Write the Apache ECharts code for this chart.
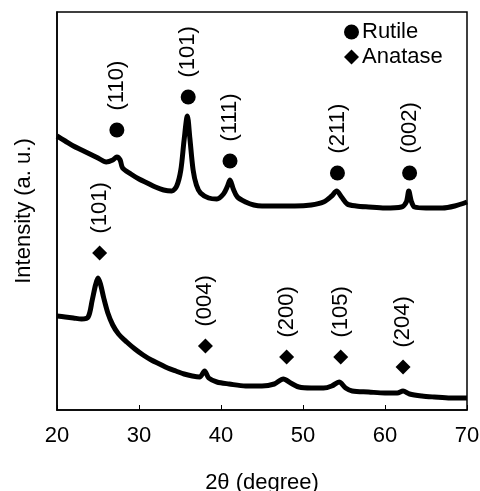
<!DOCTYPE html>
<html>
<head>
<meta charset="utf-8">
<script src="https://cdn.jsdelivr.net/npm/echarts@6/dist/echarts.min.js"></script>
<style>html,body{margin:0;padding:0;background:#fff}#c{width:480px;height:491px}</style>
</head>
<body>
<div id="c"></div>
<script>
// Top trace (rutile sample): [2theta, intensity a.u.]
var rutileTrace = [
[20.0,274],[21.0,269],[22.0,264],[23.0,260],[24.0,256],[25.0,252],[26.0,248],[26.8,250],[27.3,253],[27.7,250],
[28.0,242],[29.0,236],[30.0,231],[31.0,227],[32.0,223],[33.0,220],[34.0,219],[34.6,224],[35.1,240],[35.5,270],
[35.9,294],[36.2,272],[36.6,240],[37.0,225],[37.5,217],[38.5,212],[39.5,211],[40.3,216],[40.8,224],[41.1,230],
[41.5,221],[42.0,213],[43.0,208],[44.0,205],[45.0,204],[47.0,204],[49.0,204],[51.0,205],[52.5,208],[53.5,214],
[54.1,219],[54.7,213],[55.4,206],[56.5,204],[58.0,203],[60.0,202],[62.0,203],[62.6,208],[62.9,219],[63.2,209],
[63.6,203],[65.0,202],[67.0,202],[68.5,204],[70.0,208]
];
// Bottom trace (anatase sample)
var anataseTrace = [
[20.0,94],[21.0,93],[22.0,92],[23.0,91],[23.8,93],[24.3,110],[24.7,125],[25.0,132],[25.3,126],[25.7,112],
[26.2,97],[26.8,85],[27.5,76],[28.5,68],[29.5,61],[30.5,55],[31.5,50],[32.5,46],[33.5,42],[34.5,39],
[35.5,36],[36.5,34],[37.4,33],[38.0,39],[38.5,32],[39.5,28],[41.0,26],[43.0,24],[45.0,24],[46.5,26],
[47.6,31],[48.5,27],[49.5,23],[51.0,22],[52.5,22],[53.5,24],[54.4,28],[55.2,22],[56.0,19],[58.0,18],
[60.0,17],[61.5,17],[62.2,19],[63.0,16],[64.5,14],[66.0,13],[68.0,12],[70.0,12]
];
// Peak markers
var rutileNames = ['(110)','(101)','(111)','(211)','(002)'];
var rutilePos = [27.3, 36.0, 41.1, 54.2, 63.0];
var rutileHeight = [280, 313, 249, 237, 237];
var anataseNames = ['(101)','(004)','(200)','(105)','(204)'];
var anatasePos = [25.2, 38.1, 48.0, 54.6, 62.2];
var anataseHeight = [157, 64, 53, 53, 43];
var xTicks = [20, 30, 40, 50, 60, 70];

var font = 'Liberation Sans, Arial, sans-serif';
function markers(names, pos, h) {
  return names.map(function (n, i) { return { name: n, value: [pos[i], h[i]] }; });
}
var peakLabel = {
  show: true, position: 'top', distance: 12, rotate: 90, align: 'left', verticalAlign: 'middle',
  formatter: function (p) { return p.name; }, color: '#000', fontSize: 22, fontFamily: font
};
var chart = echarts.init(document.getElementById('c'), null, { renderer: 'canvas' });
chart.setOption({
  animation: false,
  backgroundColor: '#fff',
  grid: { left: 57, right: 13, top: 12, bottom: 81, show: true, borderColor: '#000', borderWidth: 1.5,
          containLabel: false, outerBoundsMode: 'none' },
  legend: {
    orient: 'vertical', left: 339, top: 16, itemWidth: 15, itemHeight: 15, itemGap: 3,
    textStyle: { fontSize: 22, fontFamily: font, color: '#000', padding: [0, 0, 0, -2] },
    data: [{ name: 'Rutile', icon: 'circle' }, { name: 'Anatase', icon: 'diamond' }]
  },
  xAxis: {
    type: 'value', min: xTicks[0], max: xTicks[xTicks.length - 1], interval: 10,
    name: '2θ (degree)', nameLocation: 'middle', nameGap: 62,
    nameTextStyle: { fontSize: 22, fontFamily: font, color: '#000' },
    axisLine: { show: true, lineStyle: { color: '#000', width: 1.5 } },
    axisTick: { show: true, inside: true, length: 5, lineStyle: { color: '#000' } },
    axisLabel: { fontSize: 22, fontFamily: font, color: '#000', margin: 15 },
    splitLine: { show: false }
  },
  yAxis: {
    type: 'value', min: 0, max: 398,
    name: 'Intensity (a. u.)', nameLocation: 'middle', nameGap: 22,
    nameTextStyle: { fontSize: 22, fontFamily: font, color: '#000' },
    axisLine: { show: true, lineStyle: { color: '#000', width: 1.5 } },
    axisTick: { show: false }, axisLabel: { show: false }, splitLine: { show: false }
  },
  series: [
    { type: 'line', name: 'top', data: rutileTrace, showSymbol: false, smooth: 0.3,
      lineStyle: { color: '#000', width: 5 }, z: 2 },
    { type: 'line', name: 'bottom', data: anataseTrace, showSymbol: false, smooth: 0.3,
      lineStyle: { color: '#000', width: 5 }, z: 2 },
    { type: 'scatter', name: 'Rutile', symbol: 'circle', symbolSize: 15,
      itemStyle: { color: '#000', opacity: 1 }, data: markers(rutileNames, rutilePos, rutileHeight), label: peakLabel, z: 3 },
    { type: 'scatter', name: 'Anatase', symbol: 'diamond', symbolSize: 15,
      itemStyle: { color: '#000', opacity: 1 }, data: markers(anataseNames, anatasePos, anataseHeight), label: peakLabel, z: 3 }
  ]
});
</script>
</body>
</html>
